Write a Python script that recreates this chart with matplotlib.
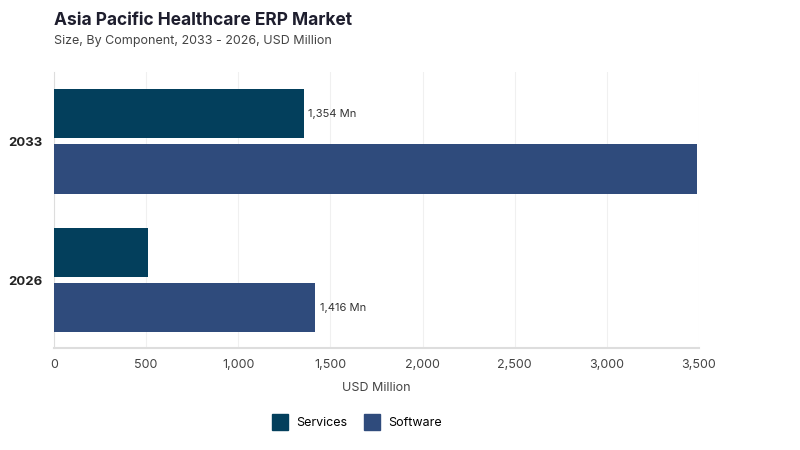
import matplotlib.pyplot as plt
from matplotlib.lines import Line2D
import numpy as np

plt.rcParams['font.family'] = ['Inter', 'DejaVu Sans']

# Data
years = ['2026', '2033']
services = [510, 1354]
software = [1416, 3490]
labels_services = ['', '1,354 Mn']
labels_software = ['1,416 Mn', '']
xticks = [0, 500, 1000, 1500, 2000, 2500, 3000, 3500]

c_serv = '#033f5c'
c_soft = '#2f4b7c'

fig = plt.figure(figsize=(8, 4.5), dpi=100)
ax = fig.add_axes([0.0675, 0.2267, 0.8063, 0.6133])

y = np.arange(len(years))
h = 0.355
off = 0.2
b1 = ax.barh(y + off, services, height=h, color=c_serv, zorder=3)
b2 = ax.barh(y - off, software, height=h, color=c_soft, zorder=3)

for rect, lab in zip(b1, labels_services):
    if lab:
        ax.text(rect.get_width() + 25, rect.get_y() + rect.get_height() / 2, lab,
                va='center', ha='left', fontsize=8, color='#333333')
for rect, lab in zip(b2, labels_software):
    if lab:
        ax.text(rect.get_width() + 25, rect.get_y() + rect.get_height() / 2, lab,
                va='center', ha='left', fontsize=8, color='#333333')

ax.set_xlim(0, 3500)
ax.set_ylim(-0.49, 1.5)
ax.set_xticks(xticks)
ax.set_xticklabels([f'{v:,}' for v in xticks], fontsize=9, color='#444444')
ax.set_yticks(y)
ax.set_yticklabels(years, fontsize=9.5, fontweight='bold', color='#222222')
ax.tick_params(axis='both', length=0, pad=8)
ax.grid(axis='x', color='#f0f0f0', linewidth=0.8, zorder=0)
for s in ['top', 'right']:
    ax.spines[s].set_visible(False)
ax.spines['left'].set_color('#dddddd')
ax.spines['bottom'].set_color('#dddddd')
ax.spines['bottom'].set_linewidth(1.5)
ax.set_xlabel('USD Million', fontsize=9, color='#444444', labelpad=8)

fig.text(0.0675, 0.955, 'Asia Pacific Healthcare ERP Market', fontsize=12.5,
         fontweight='bold', color='#1e1e2e', va='center')
fig.text(0.0675, 0.908, 'Size, By Component, 2033 - 2026, USD Million', fontsize=9,
         color='#444444', va='center')

handles = [Line2D([], [], marker='s', linestyle='none', markersize=11, color=c_serv),
           Line2D([], [], marker='s', linestyle='none', markersize=11, color=c_soft)]
fig.legend(handles, ['Services', 'Software'], loc='center', bbox_to_anchor=(0.443, 0.06),
           ncol=2, frameon=False, fontsize=9, handletextpad=0.3, columnspacing=1.0)

plt.savefig('out.png')
